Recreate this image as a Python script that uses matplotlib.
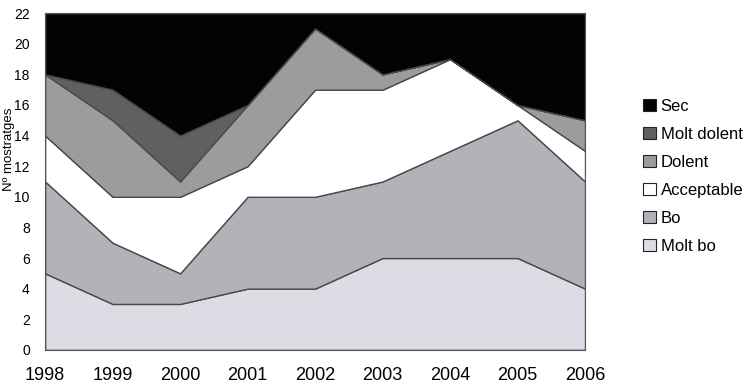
import numpy as np
import matplotlib.pyplot as plt
from matplotlib.patches import Patch

plt.rcParams['font.family'] = ['Liberation Sans', 'DejaVu Sans']

years = [1998, 1999, 2000, 2001, 2002, 2003, 2004, 2005, 2006]

# layer values (stacked from bottom)
molt_bo = [5, 3, 3, 4, 4, 6, 6, 6, 4]
bo = [6, 4, 2, 6, 6, 5, 7, 9, 7]
acceptable = [3, 3, 5, 2, 7, 6, 6, 1, 2]
dolent = [4, 5, 1, 4, 4, 1, 0, 0, 2]
molt_dolent = [0, 2, 3, 0, 0, 0, 0, 0, 0]
sec = [4, 5, 8, 6, 1, 4, 3, 6, 7]

labels = ['Molt bo', 'Bo', 'Acceptable', 'Dolent', 'Molt dolent', 'Sec']
colors = ['#dcdde4', '#b2b2b8', '#ffffff', '#9c9c9e', '#606062', '#030303']

fig = plt.figure(figsize=(7.52, 3.87), dpi=100)
ax = fig.add_axes([0.06, 0.096, 0.718, 0.870])

series = [molt_bo, bo, acceptable, dolent, molt_dolent, sec]
ax.stackplot(years, *series, colors=colors, edgecolor='#4a4a4a', linewidth=1.0)

ax.set_xlim(1998, 2006)
ax.set_ylim(0, 22)
ax.set_yticks(range(0, 23, 2))
ax.set_xticks(years)
ax.tick_params(axis='x', length=0, labelsize=13, pad=12)
ax.tick_params(axis='y', length=0, labelsize=10, pad=11)
for s in ax.spines.values():
    s.set_color('#555555')
    s.set_linewidth(0.8)

# y label sits left of the ticks, a bit above centre
fig.text(0.012, 0.615, 'Nº mostratges', rotation=90, fontsize=9.5,
         ha='center', va='center')

# legend, top entry first
handles = [Patch(facecolor=c, edgecolor='#222222', linewidth=0.8) for c in colors]
ax.legend(handles[::-1], labels[::-1], loc='center left', bbox_to_anchor=(1.08, 0.515),
          frameon=False, fontsize=12, handlelength=0.75, handleheight=0.75,
          handletextpad=0.3, labelspacing=0.78)

fig.savefig('out.png', dpi=100)
